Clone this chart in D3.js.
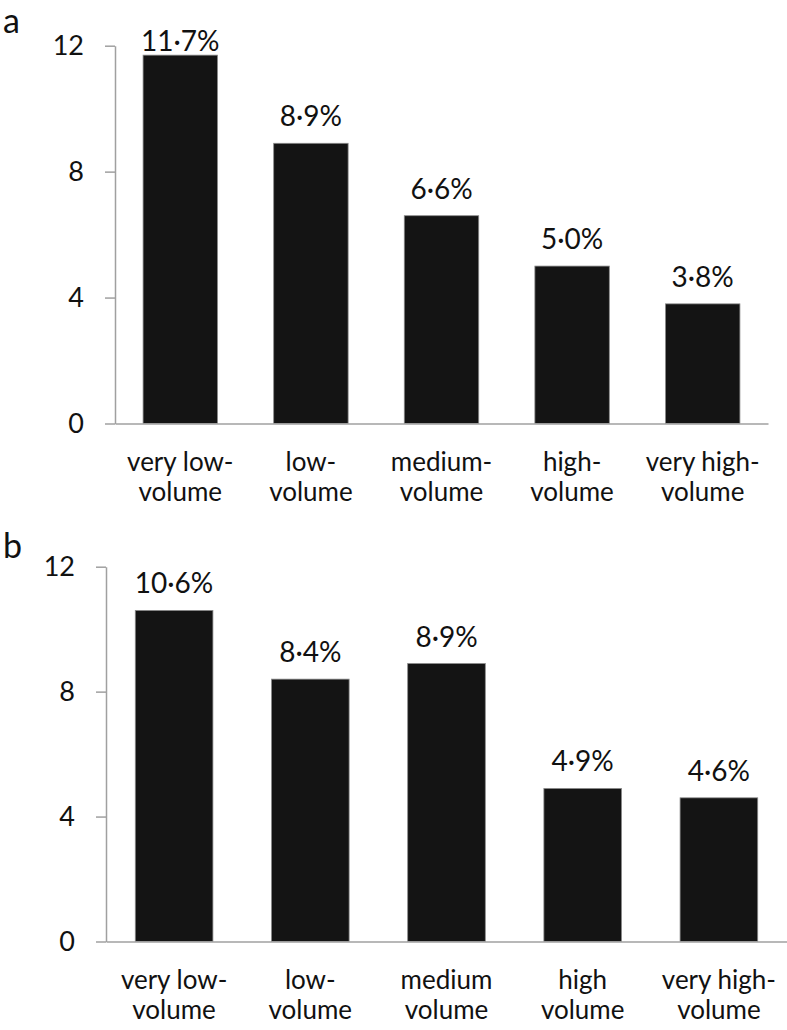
<!DOCTYPE html>
<html>
<head>
<meta charset="utf-8">
<script src="https://cdn.jsdelivr.net/npm/d3@7"></script>
<style>
  html, body { margin: 0; padding: 0; background: #fff; }
  svg { display: block; font-family: Lato, "Open Sans", sans-serif; }
</style>
</head>
<body>
<svg id="chart" width="787" height="1030"></svg>
<script>
// ---- data ----
const categoriesA = [["very low-", "volume"], ["low-", "volume"], ["medium-", "volume"], ["high-", "volume"], ["very high-", "volume"]];
const categoriesB = [["very low-", "volume"], ["low-", "volume"], ["medium", "volume"], ["high", "volume"], ["very high-", "volume"]];
const valuesA = [11.7, 8.9, 6.6, 5.0, 3.8];
const valuesB = [10.6, 8.4, 8.9, 4.9, 4.6];
const yTicks = [0, 4, 8, 12];
const panelLetters = ["a", "b"];

const svg = d3.select("#chart");

const panels = [
  { letter: panelLetters[0], cats: categoriesA, vals: valuesA, left: 115, right: 768, top: 45.7, bottom: 423.5, lx: 3, ly: 33 },
  { letter: panelLetters[1], cats: categoriesB, vals: valuesB, left: 106, right: 787, top: 566.7, bottom: 941.5, lx: 3, ly: 558 }
];

const fmt = v => v.toFixed(1).replace(".", "\u00B7") + "%";

panels.forEach(p => {
  const g = svg.append("g");
  const idx = p.cats.map((d, i) => i);
  const x = d3.scaleBand().domain(idx).range([p.left, p.right]).paddingInner(0.43).paddingOuter(0.215);
  const y = d3.scaleLinear().domain([0, 12]).range([p.bottom, p.top]);

  // panel letter
  g.append("text").attr("x", p.lx).attr("y", p.ly)
    .attr("font-size", 34).attr("fill", "#111").text(p.letter);

  // bars
  g.selectAll("rect.bar").data(p.vals).join("rect")
    .attr("class", "bar")
    .attr("x", (d, i) => x(i))
    .attr("width", x.bandwidth())
    .attr("y", d => y(d))
    .attr("height", d => y(0) - y(d))
    .attr("fill", "#141414")
    .attr("stroke", "#8a8a8a")
    .attr("stroke-width", 0.8);

  // y axis
  const yAxis = d3.axisLeft(y).tickValues(yTicks).tickSize(10).tickSizeOuter(0).tickPadding(21).tickFormat(d3.format("d"));
  const ga = g.append("g").attr("transform", `translate(${p.left},0)`).call(yAxis);
  ga.selectAll("path, line").attr("stroke", "#a0a0a0").attr("stroke-width", 1.5);
  ga.selectAll("text").attr("font-size", 27).attr("fill", "#111").attr("font-family", "Lato, 'Open Sans', sans-serif");

  // x axis
  const xAxis = d3.axisBottom(x).tickSize(0).tickSizeOuter(0).tickFormat(() => "");
  const gx = g.append("g").attr("transform", `translate(0,${p.bottom})`).call(xAxis);
  gx.select("path").attr("stroke", "#a0a0a0").attr("stroke-width", 1.5);

  // category labels
  p.cats.forEach((lines, i) => {
    const t = g.append("text")
      .attr("x", x(i) + x.bandwidth() / 2)
      .attr("y", p.bottom + 47)
      .attr("text-anchor", "middle")
      .attr("font-size", 26).attr("fill", "#111");
    lines.forEach((ln, j) => {
      t.append("tspan").attr("x", x(i) + x.bandwidth() / 2).attr("dy", j === 0 ? 0 : 30).text(ln);
    });
  });

  // value labels
  g.selectAll("text.val").data(p.vals).join("text")
    .attr("class", "val")
    .attr("x", (d, i) => x(i) + x.bandwidth() / 2)
    .attr("y", d => Math.max(y(d) - 17, p.top + 5))
    .attr("text-anchor", "middle")
    .attr("font-size", 28).attr("fill", "#111")
    .text(fmt);
});
</script>
</body>
</html>
